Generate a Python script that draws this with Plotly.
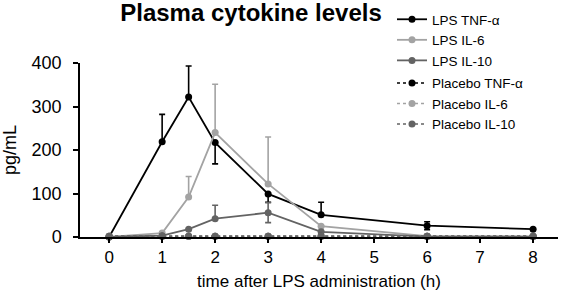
import plotly.graph_objects as go

time_h = [0, 1, 1.5, 2, 3, 4, 6, 8]

lps_tnf = [0, 219, 322, 217, 99, 51, 26, 18]
lps_tnf_up = [0, 63, 71, 0, 0, 29, 9, 0]
lps_tnf_dn = [0, 0, 0, 49, 19, 0, 9, 0]

lps_il6 = [0, 9, 92, 240, 122, 25, 2, 1]
lps_il6_up = [0, 0, 47, 111, 108, 0, 0, 0]
lps_il6_dn = [0, 0, 0, 0, 0, 10, 0, 0]

lps_il10 = [0, 3, 18, 42, 56, 12, 1, 1]
lps_il10_up = [0, 0, 0, 31, 23, 0, 0, 0]
lps_il10_dn = [0, 0, 0, 0, 23, 0, 0, 0]

plc_tnf = [2, 2, 2, 2, 2, 2, 2, 2]
plc_il6 = [2, 2, 2, 2, 2, 2, 2, 2]
plc_il10 = [2, 2, 2, 2, 2, 2, 2, 2]

BLACK = "#000000"
LIGHT = "#a3a3a3"
DARK = "#636363"
FONT = "Liberation Sans, Arial, sans-serif"

fig = go.Figure()

def add(name, y, color, dash, group, up=None, dn=None):
    err = None
    if up is not None:
        err = dict(type="data", symmetric=False, array=up, arrayminus=dn,
                   color=color, thickness=1.6, width=3)
    fig.add_trace(go.Scatter(
        x=time_h, y=y, name=name, mode="lines+markers",
        line=dict(color=color, width=1.8 if dash == "solid" else 1.5, dash=dash),
        marker=dict(color=color, size=7),
        error_y=err, legendgroup=group, cliponaxis=False,
    ))

# placebo first so LPS lines are drawn on top
add("Placebo TNF-α", plc_tnf, BLACK, "dot", "plc")
add("Placebo IL-6", plc_il6, LIGHT, "dot", "plc")
add("Placebo IL-10", plc_il10, DARK, "dot", "plc")
add("LPS IL-10", lps_il10, DARK, "solid", "lps", lps_il10_up, lps_il10_dn)
add("LPS IL-6", lps_il6, LIGHT, "solid", "lps", lps_il6_up, lps_il6_dn)
add("LPS TNF-α", lps_tnf, BLACK, "solid", "lps", lps_tnf_up, lps_tnf_dn)

# legend order: LPS group first
fig.data = (fig.data[5], fig.data[4], fig.data[3], fig.data[0], fig.data[1], fig.data[2])

fig.update_layout(
    width=565, height=291,
    margin=dict(l=80, r=7, t=63, b=54, autoexpand=False),
    paper_bgcolor="white", plot_bgcolor="white",
    font=dict(family=FONT, color="black"),
    title=dict(text="<b>Plasma cytokine levels</b>", x=251 / 565, xanchor="center",
               y=1 - 13 / 291, yanchor="middle", font=dict(size=24)),
    legend=dict(x=392 / 565, y=1 - 4 / 291, xref="container", yref="container",
                xanchor="left", yanchor="top", maxheight=250,
                font=dict(size=13.5), traceorder="grouped", tracegroupgap=2,
                itemwidth=30, bgcolor="rgba(0,0,0,0)"),
    showlegend=True,
)

fig.update_xaxes(
    range=[-0.55, 8.47], tickvals=list(range(0, 9)),
    showline=True, linecolor="black", linewidth=1.5,
    ticks="outside", ticklen=4, tickwidth=1.5, tickcolor="black",
    showgrid=False, zeroline=False, tickfont=dict(size=17),
    title=dict(text="time after LPS administration (h)", font=dict(size=17), standoff=10),
    automargin=False,
)
fig.update_yaxes(
    range=[0, 400], tickvals=[0, 100, 200, 300, 400],
    showline=True, linecolor="black", linewidth=1.5,
    ticks="outside", ticklen=5, tickwidth=1.5, tickcolor="black",
    ticklabelstandoff=8,
    showgrid=False, zeroline=False, tickfont=dict(size=18),
    title=dict(text="pg/mL", font=dict(size=18), standoff=12),
    automargin=False,
)

fig.write_html("out.html", config={"displayModeBar": False},
               post_script="document.body.style.margin='0';")
